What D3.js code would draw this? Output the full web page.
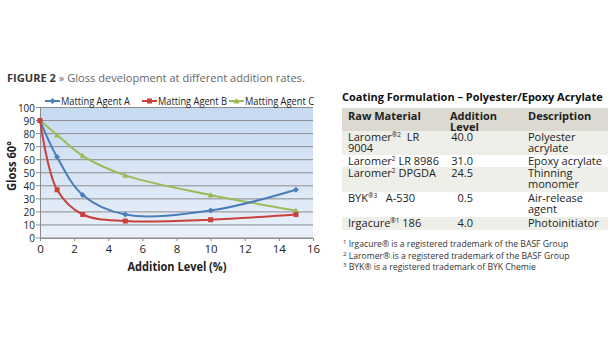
<!DOCTYPE html>
<html><head><meta charset="utf-8">
<script src="https://cdn.jsdelivr.net/npm/d3@7"></script>
<style>
html,body{margin:0;padding:0;background:#fff;}
svg{display:block;font-family:"Open Sans",sans-serif;}
</style></head>
<body>
<svg id="c" width="615" height="350"></svg>
<script>
const xLevels = [0, 1, 2.5, 5, 10, 15];
const agentA = [90, 62, 33, 18, 21, 37];
const agentB = [90, 37, 18, 13, 14, 18];
const agentC = [90, 79, 63, 48, 33, 21];
const seriesNames = ["Matting Agent A", "Matting Agent B", "Matting Agent C"];
const xTicks = [0, 2, 4, 6, 8, 10, 12, 14, 16];
const yTicks = [0, 10, 20, 30, 40, 50, 60, 70, 80, 90, 100];

const tableTitle = "Coating Formulation – Polyester/Epoxy Acrylate";
const tableHeaders = [["Raw Material"], ["Addition", "Level"], ["Description"]];
const tableMaterials = [
  [["Laromer", "®2", "  LR"], ["9004"]],
  [["Laromer", "2", " LR 8986"]],
  [["Laromer", "2", " DPGDA"]],
  [["BYK", "®3", "   A-530"]],
  [["Irgacure", "®1", " 186"]]
];
const tableLevels = ["40.0", "31.0", "24.5", "0.5", "4.0"];
const tableDescriptions = [["Polyester", "acrylate"], ["Epoxy acrylate"], ["Thinning", "monomer"], ["Air-release", "agent"], ["Photoinitiator"]];
const footnotes = [
  ["1", " Irgacure® is a registered trademark of the BASF Group"],
  ["2", " Laromer® is a registered trademark of the BASF Group"],
  ["3", " BYK® is a registered trademark of BYK Chemie"]
];

const svg = d3.select("#c");
const colors = ["#4a7ebb", "#c9413c", "#9bbb59"];
const data = [agentA, agentB, agentC];

function fitWidth(sel, target) {
  const w = sel.node().getComputedTextLength();
  const fs = parseFloat(sel.attr("font-size"));
  if (w > 0) sel.attr("font-size", (fs * target / w).toFixed(2));
  return sel;
}

// Title
const t = svg.append("text").attr("x", 7).attr("y", 82).attr("font-size", 11).attr("fill", "#3a3a3a");
t.append("tspan").attr("font-weight", "bold").text("FIGURE 2");
t.append("tspan").attr("fill", "#666").text(" » Gloss development at different addition rates.");
fitWidth(t, 298);

// Chart
const x = d3.scaleLinear().domain([0, 16]).range([40, 313]);
const y = d3.scaleLinear().domain([0, 100]).range([238, 107.5]);

const defs = svg.append("defs");
const g = defs.append("linearGradient").attr("id", "bg").attr("x1", 0).attr("x2", 0).attr("y1", 0).attr("y2", 1);
g.append("stop").attr("offset", "0%").attr("stop-color", "#c6daf2");
g.append("stop").attr("offset", "100%").attr("stop-color", "#eaf0f9");

svg.append("rect").attr("x", x(0)).attr("y", y(100)).attr("width", x(16) - x(0)).attr("height", y(0) - y(100)).attr("fill", "url(#bg)");

svg.append("g").selectAll("line").data(yTicks).join("line")
  .attr("x1", x(0) - 4).attr("x2", x(16)).attr("y1", d => y(d)).attr("y2", d => y(d))
  .attr("stroke", "#8c8c8c").attr("stroke-width", 1);

const xAxis = svg.append("g").attr("transform", `translate(0,${y(0)})`)
  .call(d3.axisBottom(x).tickValues(xTicks).tickSize(3).tickPadding(4));
xAxis.select(".domain").attr("stroke", "#8c8c8c");
xAxis.selectAll(".tick line").attr("stroke", "#8c8c8c");
xAxis.selectAll("text").attr("font-size", 11.5).attr("fill", "#222").attr("font-family", "Open Sans");

const yAxis = svg.append("g").attr("transform", `translate(${x(0)},0)`)
  .call(d3.axisLeft(y).tickValues(yTicks).tickSize(0).tickPadding(5));
yAxis.select(".domain").attr("stroke", "#8c8c8c");
yAxis.selectAll("text").attr("font-size", 11.5).attr("fill", "#222").attr("font-family", "Open Sans")
  .attr("textLength", d => String(d).length * 5.7).attr("lengthAdjust", "spacingAndGlyphs");

svg.append("text").attr("transform", `translate(16,166) rotate(-90)`).attr("text-anchor", "middle")
  .attr("font-size", 11.5).attr("font-weight", "bold").attr("fill", "#222")
  .attr("textLength", 50).attr("lengthAdjust", "spacingAndGlyphs").text("Gloss 60°");
svg.append("text").attr("x", 177).attr("y", 271).attr("text-anchor", "middle")
  .attr("font-size", 11.5).attr("font-weight", "bold").attr("fill", "#222")
  .attr("textLength", 99).attr("lengthAdjust", "spacingAndGlyphs").text("Addition Level (%)");

const line = d3.line().x((d, i) => x(xLevels[i])).y(d => y(d)).curve(d3.curveCatmullRom.alpha(0.5));

function marker(sel, k, cx, cy) {
  if (k === 0) sel.append("path").attr("d", `M${cx},${cy-3}L${cx+3},${cy}L${cx},${cy+3}L${cx-3},${cy}Z`).attr("fill", colors[0]);
  else if (k === 1) sel.append("rect").attr("x", cx - 2.5).attr("y", cy - 2.5).attr("width", 5).attr("height", 5).attr("fill", colors[1]);
  else sel.append("path").attr("d", `M${cx},${cy-3}L${cx+3},${cy+2.5}L${cx-3},${cy+2.5}Z`).attr("fill", colors[2]);
}

[2, 0, 1].forEach(k => {
  svg.append("path").attr("d", line(data[k])).attr("fill", "none").attr("stroke", colors[k]).attr("stroke-width", 2);
});
[2, 0, 1].forEach(k => {
  const gm = svg.append("g");
  data[k].forEach((v, i) => marker(gm, k, x(xLevels[i]), y(v)));
});

// legend
const legX = [45, 142, 229];
seriesNames.forEach((n, k) => {
  const lg = svg.append("g");
  lg.append("line").attr("x1", legX[k]).attr("x2", legX[k] + 15).attr("y1", 101).attr("y2", 101).attr("stroke", colors[k]).attr("stroke-width", 2);
  marker(lg, k, legX[k] + 7.5, 101);
  lg.append("text").attr("x", legX[k] + 16).attr("y", 105).attr("font-size", 10.5).attr("fill", "#222")
    .attr("textLength", 69).attr("lengthAdjust", "spacingAndGlyphs").text(n);
});

// Table
const tt = svg.append("text").attr("x", 342).attr("y", 101).attr("font-size", 11).attr("font-weight", "bold").attr("fill", "#111").text(tableTitle);
fitWidth(tt, 261);

const colX = [348, 450, 528];
const rowTops = [108, 131, 155, 167, 192, 217, 230];
const rowFill = ["#dcdad0", "#efefe9", "#ffffff", "#efefe9", "#ffffff", "#efefe9"];
const lh = 11;
const fsT = 11;
for (let r = 0; r < 6; r++) {
  svg.append("rect").attr("x", 342).attr("y", rowTops[r]).attr("width", 266).attr("height", rowTops[r+1] - rowTops[r]).attr("fill", rowFill[r]);
}
tableHeaders.forEach((lines, c) => {
  const tx = svg.append("text").attr("x", colX[c]).attr("y", rowTops[0] + 11.5).attr("font-size", fsT).attr("font-weight", "bold").attr("fill", "#222");
  lines.forEach((s, j) => tx.append("tspan").attr("x", colX[c]).attr("dy", j ? lh : 0).text(s));
});
for (let r = 0; r < 5; r++) {
  const top = rowTops[r + 1] + 10;
  const tx = svg.append("text").attr("x", colX[0]).attr("y", top).attr("font-size", fsT).attr("fill", "#222").attr("xml:space", "preserve");
  tableMaterials[r].forEach((parts, j) => {
    if (parts.length === 3) {
      tx.append("tspan").attr("x", colX[0]).attr("dy", j ? lh : 0).text(parts[0]);
      tx.append("tspan").attr("font-size", 6.5).attr("dy", -4).text(parts[1]);
      tx.append("tspan").attr("dy", 4).text(parts[2]);
    } else tx.append("tspan").attr("x", colX[0]).attr("dy", j ? lh : 0).text(parts[0]);
  });
  svg.append("text").attr("x", 473).attr("y", top).attr("text-anchor", "end").attr("font-size", fsT).attr("fill", "#222").text(tableLevels[r]);
  const td = svg.append("text").attr("x", colX[2]).attr("y", top).attr("font-size", fsT).attr("fill", "#222");
  tableDescriptions[r].forEach((s, j) => td.append("tspan").attr("x", colX[2]).attr("dy", j ? lh : 0).text(s));
}
let fnSize = null;
footnotes.forEach((f, i) => {
  const tx = svg.append("text").attr("x", 343).attr("y", 247 + i * 11.5).attr("font-size", 9).attr("fill", "#333");
  tx.append("tspan").attr("font-size", 6).attr("dy", -3).text(f[0]);
  tx.append("tspan").attr("dy", 3).text(f[1]);
  if (i === 0) { fitWidth(tx, 226); fnSize = tx.attr("font-size"); }
  else tx.attr("font-size", fnSize);
});
</script>
</body></html>
